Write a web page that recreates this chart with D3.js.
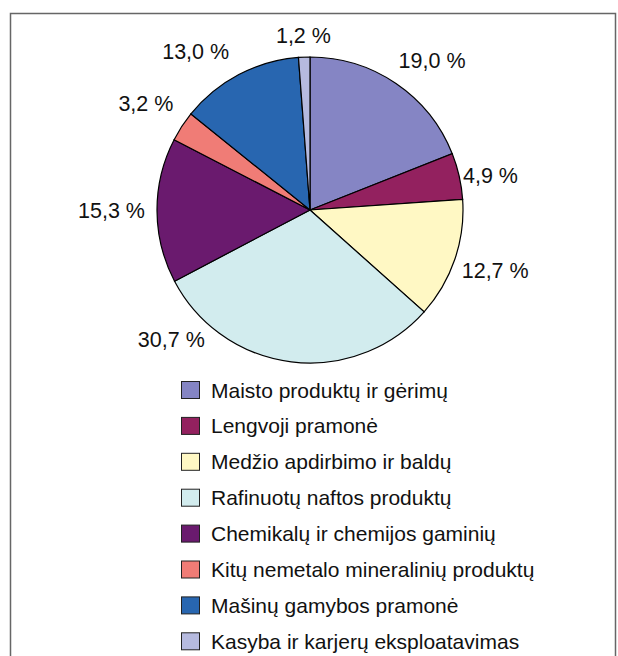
<!DOCTYPE html>
<meta charset="utf-8">
<style>
body { margin: 0; background: #fff; }
text { font-family: "Liberation Sans", Arial, sans-serif; fill: #111; }
.slice { stroke: #000; stroke-width: 1.2px; }
.swatch { stroke: #222; stroke-width: 1px; }
</style>
<svg width="618" height="656"></svg>
<script src="https://d3js.org/d3.v7.min.js"></script>
<script>

var categories = [
  "Maisto produktų ir gėrimų",
  "Lengvoji pramonė",
  "Medžio apdirbimo ir baldų",
  "Rafinuotų naftos produktų",
  "Chemikalų ir chemijos gaminių",
  "Kitų nemetalo mineralinių produktų",
  "Mašinų gamybos pramonė",
  "Kasyba ir karjerų eksploatavimas"
];
var values = [19.0, 4.9, 12.7, 30.7, 15.3, 3.2, 13.0, 1.2];
var colors = ["#8585c4", "#93215f", "#fff8c4", "#d2ecee", "#6a1a6e", "#f07c76", "#2866b0", "#b6badf"];
// nudges Excel applied to a few labels (angle in degrees, radius in px)
var labelNudge = [5, 2, -1, 40, 0, 0, -8, 0];
var labelPush = [0, -10, -5, -6, 0, 3, 4, 0];

var svg = d3.select("svg"),
    width = +svg.attr("width"),
    height = +svg.attr("height");

// outer frame (bottom edge runs off the picture)
svg.append("path")
    .attr("d", "M10.5,700V13.5H615.5V700")
    .attr("fill", "none")
    .attr("stroke", "#666")
    .attr("stroke-width", 1.5);

var cx = 310, cy = 210, r = 153;

var pie = d3.pie().sort(null).value(function(d) { return d; });
var arcs = pie(values);
var arc = d3.arc().innerRadius(0).outerRadius(r);

var g = svg.append("g").attr("transform", "translate(" + cx + "," + cy + ")");

g.selectAll(".slice")
  .data(arcs)
  .enter().append("path")
    .attr("class", "slice")
    .attr("fill", function(d, i) { return colors[i]; })
    .attr("d", arc);

var fmt = function(v) { return v.toFixed(1).replace(".", ",") + " %"; };

g.selectAll(".lbl")
  .data(arcs)
  .enter().append("text")
    .attr("class", "lbl")
    .attr("font-size", 21.5)
    .attr("text-anchor", "middle")
    .attr("dy", "0.36em")
    .text(function(d) { return fmt(d.data); })
    .each(function(d, i) {
      var a = (d.startAngle + d.endAngle) / 2 + labelNudge[i] * Math.PI / 180;
      var hw = this.getComputedTextLength() / 2, hh = 9;
      var rr = r + 12 + Math.abs(Math.sin(a)) * hw + Math.abs(Math.cos(a)) * hh + labelPush[i];
      d3.select(this)
        .attr("x", Math.sin(a) * rr)
        .attr("y", -Math.cos(a) * rr);
    });

var legend = svg.append("g").attr("transform", "translate(181,390)");

var row = legend.selectAll(".row")
  .data(categories)
  .enter().append("g")
    .attr("class", "row")
    .attr("transform", function(d, i) { return "translate(0," + i * 35.9 + ")"; });

row.append("rect")
    .attr("class", "swatch")
    .attr("x", 0.5)
    .attr("y", -8.5)
    .attr("width", 18)
    .attr("height", 17)
    .attr("fill", function(d, i) { return colors[i]; });

row.append("text")
    .attr("x", 30)
    .attr("dy", "0.36em")
    .attr("font-size", 21)
    .text(function(d) { return d; });

</script>
